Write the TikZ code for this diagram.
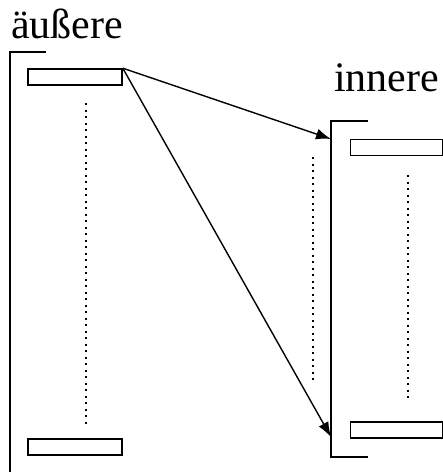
\documentclass[tikz,border=0pt]{standalone}
\usepackage{fontspec}
\setmainfont{Liberation Serif}
\usetikzlibrary{arrows.meta}
\tikzset{
	field/.style={draw, line width=1.6pt, inner sep=0pt, minimum width=94pt, minimum height=16pt},
	frame/.style={line width=2pt},
	dots/.style={line width=1.9pt, dash pattern=on 2pt off 4.5pt},
	pointer/.style={line width=1.4pt, -{Latex[length=15pt, width=11pt]}},
	label/.style={inner sep=0pt, font=\fontsize{42}{42}\selectfont}
}
\begin{document}
	\begin{tikzpicture}[x=1pt, y=-1pt]
		\useasboundingbox (0, 0) rectangle (443, 472);
		\node[label, anchor=base west] (outerlabel) at (11, 38) {äußere};
		\node[label, anchor=base west] (innerlabel) at (334, 91) {innere};
		\draw[frame] (46, 52) -- (10, 52) -- (10, 476);
		\draw[frame] (368, 121) -- (331, 121) -- (331, 457) -- (368, 457);
		\node[field] (outertop) at (75, 77) {};
		\node[field] (outerbottom) at (75, 447) {};
		\node[field, minimum width=92pt] (innertop) at (396.5, 147.5) {};
		\node[field, minimum width=92pt] (innerbottom) at (396.5, 430) {};
		\draw[dots] (86, 103) -- (86, 424);
		\draw[dots] (408, 175) -- (408, 402);
		\draw[dots] (313, 157) -- (313, 382);
		\coordinate (innerfirst) at (331, 139);
		\coordinate (innerlast) at (331, 437);
		\draw[pointer] (outertop.north east) -- (innerfirst);
		\draw[pointer] (outertop.north east) -- (innerlast);
	\end{tikzpicture}
\end{document}
